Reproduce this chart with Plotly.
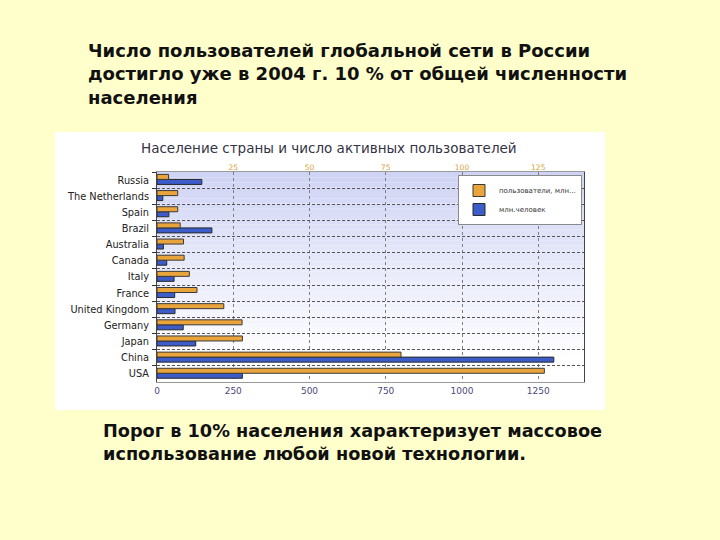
import plotly.graph_objects as go

# ---- data ----
countries = ["Russia", "The Netherlands", "Spain", "Brazil", "Australia", "Canada",
             "Italy", "France", "United Kingdom", "Germany", "Japan", "China", "USA"]
users_mln = [3.8, 6.8, 6.8, 7.6, 8.7, 8.9, 10.6, 13.1, 21.9, 27.9, 28.0, 80.0, 127.0]
population_mln = [147, 19, 39, 180, 21, 32, 56, 58, 59, 86, 127, 1301, 280]
top_ticks = [25, 50, 75, 100, 125]
bottom_ticks = [0, 250, 500, 750, 1000, 1250]

users_name = "пользователи, млн..."
pop_name = "млн.человек"

chart_title = "Население страны и число активных пользователей"
slide_title = ("Число пользователей глобальной сети в России<br>"
               "достигло уже в 2004 г. 10 % от общей численности<br>"
               "населения")
slide_caption = ("Порог в 10% населения характеризует массовое<br>"
                 "использование любой новой технологии.")

# ---- layout geometry (pixels of the 720x540 page) ----
W, H = 720, 540
PL, PR, PT, PB = 157, 584, 172, 382


def px_x(p):
    return (p - PL) / (PR - PL)


def px_y(p):
    return (PB - p) / (PB - PT)


ORANGE = "#E9A43C"
BLUE = "#3B5CC9"

fig = go.Figure()
fig.add_trace(go.Bar(
    y=countries, x=users_mln, orientation="h", name=users_name,
    xaxis="x2", yaxis="y", offset=-0.35, width=0.31,
    marker=dict(color=ORANGE, line=dict(color="#3a3a3a", width=1)),
))
fig.add_trace(go.Bar(
    y=countries, x=population_mln, orientation="h", name=pop_name,
    xaxis="x", yaxis="y", offset=-0.04, width=0.31,
    marker=dict(color=BLUE, line=dict(color="#2a2a2a", width=1)),
))

shapes = []
# white chart card
shapes.append(dict(type="rect", xref="paper", yref="paper", layer="below",
                   x0=px_x(55), x1=px_x(605), y0=px_y(410), y1=px_y(132),
                   fillcolor="white", line=dict(width=0)))
# vertical gradient of the plot background (lavender -> white)
N = 40
top_rgb = (208, 212, 244)
for i in range(N):
    t = i / (N - 1)
    f = min(1.0, t / 0.9)
    r = round(top_rgb[0] + (255 - top_rgb[0]) * f)
    g = round(top_rgb[1] + (255 - top_rgb[1]) * f)
    b = round(top_rgb[2] + (255 - top_rgb[2]) * f)
    shapes.append(dict(type="rect", xref="x domain", yref="y domain", layer="below",
                       x0=0, x1=1, y0=1 - (i + 1) / N, y1=1 - i / N,
                       fillcolor=f"rgb({r},{g},{b})", line=dict(width=0)))

annotations = [
    dict(text=slide_title, xref="paper", yref="paper", x=px_x(86), y=px_y(74),
         xanchor="left", yanchor="middle", align="left", showarrow=False,
         font=dict(family="DejaVu Sans", size=18, color="#111111", weight="bold")),
    dict(text=slide_caption, xref="paper", yref="paper", x=px_x(101), y=px_y(442),
         xanchor="left", yanchor="middle", align="left", showarrow=False,
         font=dict(family="DejaVu Sans", size=17.7, color="#111111", weight="bold")),
    dict(text=chart_title, xref="paper", yref="paper", x=px_x(329), y=px_y(148),
         xanchor="center", yanchor="middle", showarrow=False,
         font=dict(family="DejaVu Sans", size=13.5, color="#333344")),
]

fig.update_layout(
    width=W, height=H,
    margin=dict(l=PL, r=W - PR, t=PT, b=H - PB, pad=0),
    paper_bgcolor="#FFFFCC",
    plot_bgcolor="rgba(0,0,0,0)",
    barmode="overlay",
    showlegend=True,
    legend=dict(x=px_x(582), y=px_y(175), xanchor="right", yanchor="top",
                bgcolor="white", bordercolor="#8a8a8a", borderwidth=1,
                font=dict(family="DejaVu Sans", size=7, color="#333333"),
                itemwidth=30, tracegroupgap=0),
    xaxis=dict(range=[0, 1400], tickvals=bottom_ticks, ticktext=[str(v) for v in bottom_ticks],
               showgrid=True, gridcolor="#808080", griddash="dot", gridwidth=1,
               zeroline=False, showline=True, linecolor="#9a9a9a", mirror=True,
               ticks="", tickfont=dict(family="DejaVu Sans", size=9, color="#4a4a78")),
    xaxis2=dict(range=[0, 140], overlaying="x", side="top", anchor="y",
                tickvals=top_ticks, ticktext=[str(v) for v in top_ticks],
                showgrid=False, zeroline=False, showline=False, ticks="",
                tickfont=dict(family="DejaVu Sans", size=7.5, color="#D9A23A")),
    yaxis=dict(type="category", categoryorder="array", categoryarray=countries,
               autorange="reversed", tickson="boundaries",
               showgrid=True, gridcolor="#555555", griddash="3px,2px", gridwidth=1,
               ticks="outside", ticklen=4, tickcolor="#333333", ticklabelstandoff=5,
               showline=True, linecolor="#444444", mirror=True,
               tickfont=dict(family="DejaVu Sans", size=9.8, color="#222222")),
    shapes=shapes,
    annotations=annotations,
)

fig.write_html(
    "out.html",
    config={"displayModeBar": False},
    post_script="document.body.style.margin='0';document.body.style.background='#FFFFCC';",
)
